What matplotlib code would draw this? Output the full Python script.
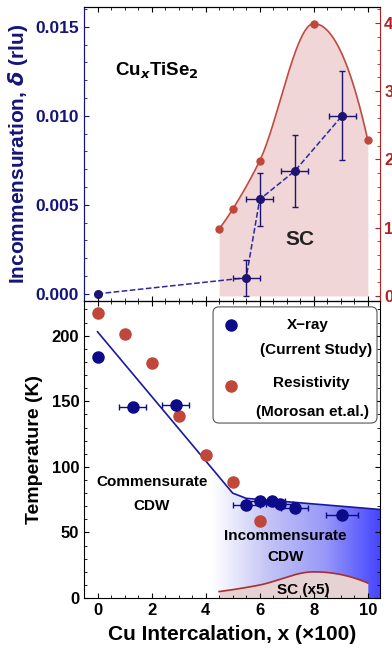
import numpy as np
import matplotlib.pyplot as plt
from matplotlib.colors import LinearSegmentedColormap
from matplotlib.patches import Polygon, FancyBboxPatch
from matplotlib.ticker import MultipleLocator

plt.rcParams['font.family'] = ['Liberation Sans', 'DejaVu Sans']
plt.rcParams['font.weight'] = 'bold'

# --- top panel: incommensuration (x-ray) ---
x_delta = [0.0, 5.5, 6.0, 7.3, 9.05]
delta = [0.0, 0.0009, 0.0053, 0.0069, 0.0100]
delta_err = [0.0, 0.0010, 0.0015, 0.0020, 0.0025]
x_delta_err = [0.0, 0.5, 0.5, 0.5, 0.5]

# superconducting Tc (right axis, K)
x_sc = [4.5, 5.0, 6.0, 8.0, 10.0]
tc_sc = [0.98, 1.27, 1.98, 3.99, 2.28]

# --- bottom panel: CDW transition temperature ---
x_xray = [0.0, 1.3, 2.9, 5.5, 6.0, 6.45, 6.75, 7.3, 9.05]
t_xray = [183.5, 146, 147, 71, 74, 74, 72, 69, 63.5]
x_xray_err = [0.0, 0.5, 0.5, 0.5, 0.5, 0.5, 0.5, 0.5, 0.6]

x_res = [0, 1, 2, 3, 4, 5, 6]
t_res = [217, 201, 179, 139, 109, 88.5, 59]

x_guide = [0.0, 5.0, 5.5, 10.45]
t_guide = [203, 80, 76, 67.5]

navy = '#14147a'
dred = '#b22222'
blue_pt = '#0c0c8a'
red_pt = '#c0473a'


def pchip(xk, yk, xs):
    # monotone cubic (Fritsch-Carlson) through the knots
    xk = np.asarray(xk, float)
    yk = np.asarray(yk, float)
    h = np.diff(xk)
    s = np.diff(yk) / h
    n = len(xk)
    m = np.zeros(n)
    for i in range(1, n - 1):
        if s[i - 1] * s[i] > 0:
            w1 = 2 * h[i] + h[i - 1]
            w2 = h[i] + 2 * h[i - 1]
            m[i] = (w1 + w2) / (w1 / s[i - 1] + w2 / s[i])
    m[0] = ((2 * h[0] + h[1]) * s[0] - h[0] * s[1]) / (h[0] + h[1])
    m[-1] = ((2 * h[-1] + h[-2]) * s[-1] - h[-1] * s[-2]) / (h[-1] + h[-2])
    out = np.empty_like(xs)
    for j, xv in enumerate(xs):
        i = min(max(np.searchsorted(xk, xv) - 1, 0), n - 2)
        t = (xv - xk[i]) / h[i]
        h00 = 2 * t ** 3 - 3 * t ** 2 + 1
        h10 = t ** 3 - 2 * t ** 2 + t
        h01 = -2 * t ** 3 + 3 * t ** 2
        h11 = t ** 3 - t ** 2
        out[j] = h00 * yk[i] + h10 * h[i] * m[i] + h01 * yk[i + 1] + h11 * h[i] * m[i + 1]
    return out


xs = np.linspace(x_sc[0], x_sc[-1], 300)
tc_curve = pchip(x_sc, tc_sc, xs)

fig = plt.figure(figsize=(3.92, 6.5), dpi=100)
ax1 = fig.add_axes([0.2143, 0.537, 0.755, 0.452])
ax2 = fig.add_axes([0.2143, 0.080, 0.755, 0.457])
ax1r = ax1.twinx()

xlim = (-0.5, 10.45)

# top panel
ax1r.fill_between(xs, 0, tc_curve, color='#f0d6d6', lw=0, zorder=0)
ax1r.plot(xs, tc_curve, color='#c04a40', lw=1.2)
ax1r.plot(x_sc, tc_sc, 'o', color=red_pt, ms=5)
ax1r.set_ylim(-0.073, 4.23)
ax1r.yaxis.set_major_locator(MultipleLocator(1))
ax1r.yaxis.set_minor_locator(MultipleLocator(0.2))
ax1r.tick_params(axis='y', which='both', direction='in', colors=dred, labelsize=12, pad=3)
ax1r.spines['right'].set_color(dred)
ax1r.spines['left'].set_color(navy)
ax1r.text(7.5, 0.82, 'SC', fontsize=15, fontweight='bold', ha='center', va='center', color='#222222')

ax1.set_zorder(ax1r.get_zorder() + 1)
ax1.patch.set_visible(False)
ax1.plot(x_delta, delta, '--', color='#2a2aa0', lw=1.1)
ax1.errorbar(x_delta, delta, yerr=delta_err, xerr=x_delta_err, fmt='o', color='#1c1470',
             ms=5.5, elinewidth=1, capsize=2)
ax1.set_xlim(*xlim)
ax1.set_ylim(-0.0004, 0.0161)
ax1.yaxis.set_major_locator(MultipleLocator(0.005))
ax1.yaxis.set_minor_locator(MultipleLocator(0.001))
ax1.xaxis.set_major_locator(MultipleLocator(2))
ax1.xaxis.set_minor_locator(MultipleLocator(0.5))
ax1.yaxis.set_major_formatter(plt.FormatStrFormatter('%.3f'))
ax1.tick_params(axis='y', which='both', direction='in', colors=navy, labelsize=12.5)
ax1.tick_params(axis='x', which='both', direction='in', top=True, labelbottom=False)
ax1.spines['left'].set_color(navy)
ax1.spines['right'].set_visible(False)
ax1.set_ylabel('Incommensuration, $\\boldsymbol{\\delta}$ (rlu)', color=navy, fontsize=15,
               fontweight='bold', labelpad=4)
ax1.text(0.65, 0.0125, 'Cu$_\\mathbf{\\it{x}}$TiSe$_\\mathbf{2}$', fontsize=13.5,
         fontweight='bold', va='center')

# bottom panel: gradient below the guide line
x0 = 4.25
grad = np.linspace(0, 1, 256).reshape(1, -1)
cmap = LinearSegmentedColormap.from_list('wb', ['#ffffff', '#c4c4f6', '#9a9af8', '#4646ff'])
im = ax2.imshow(grad, cmap=cmap, extent=[x0, xlim[1], 0, 226], aspect='auto', zorder=0)
t_at_x0 = np.interp(x0, x_guide, t_guide)
poly_x = [x0] + [x for x in x_guide if x > x0] + [xlim[1], x0]
poly_y = [t_at_x0] + [t for x, t in zip(x_guide, t_guide) if x > x0] + [0, 0]
clip = Polygon(list(zip(poly_x, poly_y)), closed=True, transform=ax2.transData, fc='none', ec='none')
ax2.add_patch(clip)
im.set_clip_path(clip)

ax2.plot(x_guide, t_guide, color='#1818a0', lw=1.2, zorder=2)
ax2.fill_between(xs, 0, tc_curve * 5, color='#e6d2d2', lw=0, zorder=1)
ax2.plot(xs, tc_curve * 5, color='#a83030', lw=1.2, zorder=2)

ax2.errorbar(x_xray, t_xray, xerr=x_xray_err, fmt='o', color=blue_pt, ms=8, elinewidth=1,
             capsize=2, zorder=4)
ax2.plot(x_res, t_res, 'o', color=red_pt, ms=8, zorder=3)

ax2.text(2.0, 88.5, 'Commensurate', fontsize=11, fontweight='bold', ha='center', va='center')
ax2.text(2.0, 70.5, 'CDW', fontsize=11, fontweight='bold', ha='center', va='center')
ax2.text(6.95, 47, 'Incommensurate', fontsize=11, fontweight='bold', ha='center', va='center')
ax2.text(6.95, 31, 'CDW', fontsize=11, fontweight='bold', ha='center', va='center')
ax2.text(7.6, 6, 'SC (x5)', fontsize=11, fontweight='bold', ha='center', va='center', zorder=5)

ax2.set_xlim(*xlim)
ax2.set_ylim(0, 226.5)
ax2.xaxis.set_major_locator(MultipleLocator(2))
ax2.xaxis.set_minor_locator(MultipleLocator(0.5))
ax2.yaxis.set_major_locator(MultipleLocator(50))
ax2.yaxis.set_minor_locator(MultipleLocator(10))
ax2.tick_params(which='both', direction='in', top=True, right=True, labelsize=12)
ax2.set_ylabel('Temperature (K)', fontsize=14, fontweight='bold', labelpad=6)
ax2.set_xlabel('Cu Intercalation, x (\u00d7100)', fontsize=15, fontweight='bold', labelpad=5)

# legend box, drawn by hand so the marker sits on the first line of each entry
ta = ax2.transAxes
ax2.add_patch(FancyBboxPatch((0.436, 0.589), 0.554, 0.391, boxstyle='round,pad=0,rounding_size=0.02',
                             transform=ta, fc='white', ec='#555555', lw=0.8, zorder=6))
ax2.plot([0.497], [0.919], 'o', color=blue_pt, ms=8, transform=ta, zorder=7, clip_on=False)
ax2.plot([0.497], [0.714], 'o', color=red_pt, ms=8, transform=ta, zorder=7, clip_on=False)
leg_text = [('X\u2212ray', 0.757, 0.919), ('(Current Study)', 0.784, 0.835),
            ('Resistivity', 0.768, 0.724), ('(Morosan et.al.)', 0.772, 0.626)]
for s, tx, ty in leg_text:
    ax2.text(tx, ty, s, transform=ta, fontsize=11, fontweight='bold', ha='center', va='center', zorder=7)

fig.savefig('out.png', dpi=100)
